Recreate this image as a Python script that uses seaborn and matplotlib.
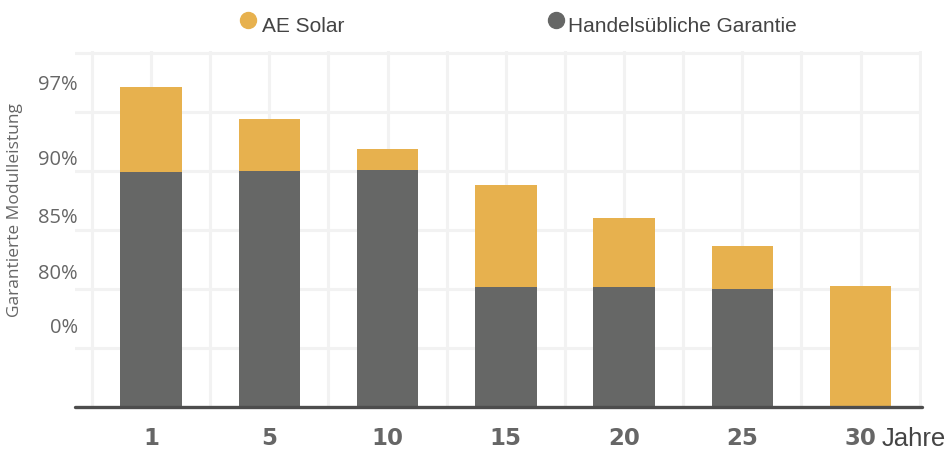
import matplotlib
matplotlib.use("Agg")
import matplotlib.pyplot as plt
from matplotlib.lines import Line2D
import numpy as np
import pandas as pd
import seaborn as sns

# bar heights, in grid steps above the baseline
jahre = ["1", "5", "10", "15", "20", "25", "30"]
ae_solar = [5.42, 4.88, 4.37, 3.76, 3.20, 2.73, 2.05]
handelsueblich = [3.98, 4.00, 4.02, 2.03, 2.03, 2.00, 0.0]

# the y tick texts as printed on the chart (they are not evenly spaced)
ytick_labels = ["97%", "90%", "85%", "80%", "0%"]
ytick_pos = [5.52, 4.25, 3.27, 2.32, 1.39]

serien = ["AE Solar", "Handelsübliche Garantie"]

gelb = "#E7B14E"
grau = "#666766"
text_grau = "#666666"

df = pd.DataFrame({"Jahre": jahre, serien[0]: ae_solar,
                   serien[1]: handelsueblich})

sns.set_theme(style="white")
plt.rcParams["font.family"] = ["Open Sans", "DejaVu Sans"]

fig = plt.figure(figsize=(9.49, 4.52), dpi=100)
ax = fig.add_axes([75 / 949, 44 / 452, 847 / 949, 355.8 / 452])

sns.barplot(data=df, x="Jahre", y=serien[0], color=gelb, width=0.52,
            saturation=1, linewidth=0, edgecolor="none", ax=ax, zorder=3)
sns.barplot(data=df, x="Jahre", y=serien[1], color=grau, width=0.52,
            saturation=1, linewidth=0, edgecolor="none", ax=ax, zorder=4)

ax.set_xlim(-0.644, 6.52)
ax.set_ylim(0, 6.03)

# grid: vertical every half category, horizontal every step
ax.set_xticks(np.arange(7))
ax.set_xticks(np.arange(-0.5, 7.0, 0.5), minor=True)
ax.xaxis.remove_overlapping_locs = False
ax.set_yticks(ytick_pos, ytick_labels)
ax.set_yticks(np.arange(1, 7), minor=True)
ax.xaxis.grid(True, which="minor", color="#F2F2F2", lw=2.2, zorder=0)
ax.yaxis.grid(True, which="minor", color="#F2F2F2", lw=2.2, zorder=0)
ax.yaxis.grid(False, which="major")
ax.xaxis.grid(False, which="major")
ax.set_axisbelow(True)

ax.tick_params(axis="both", which="both", length=0)
ax.tick_params(axis="y", pad=-2, labelsize=14.5, labelcolor=text_grau)
ax.tick_params(axis="x", pad=14, labelsize=16.5, labelcolor=text_grau)
for lab in ax.get_xticklabels():
    lab.set_fontfamily("DejaVu Sans")
    lab.set_fontweight("bold")

ax.set_xlabel("")
ax.set_ylabel("")
for s in ax.spines.values():
    s.set_visible(False)
ax.axhline(0, color="#4D4D4D", lw=2.4, clip_on=False, zorder=5)

fig.text(15 / 949, 1 - 210 / 452, "Garantierte Modulleistung", rotation=90,
         ha="center", va="center", fontsize=12.5, color=text_grau)
fig.text(882 / 949, 1 - 439 / 452, "Jahre", ha="left", va="center",
         fontsize=18.5, color="#444444", family="Liberation Sans")

# legend drawn by hand: the dots sit a little higher than the text
for name, col, mx, tx in [(serien[0], gelb, 248, 262),
                          (serien[1], grau, 556, 568)]:
    fig.add_artist(Line2D([mx / 949], [1 - 20.5 / 452], marker="o", ls="",
                          color=col, markersize=11.5,
                          transform=fig.transFigure))
    fig.text(tx / 949, 1 - 32 / 452, name, ha="left", va="baseline",
             fontsize=15, color="#444444", family="Liberation Sans")

fig.savefig("out.png", dpi=100)
